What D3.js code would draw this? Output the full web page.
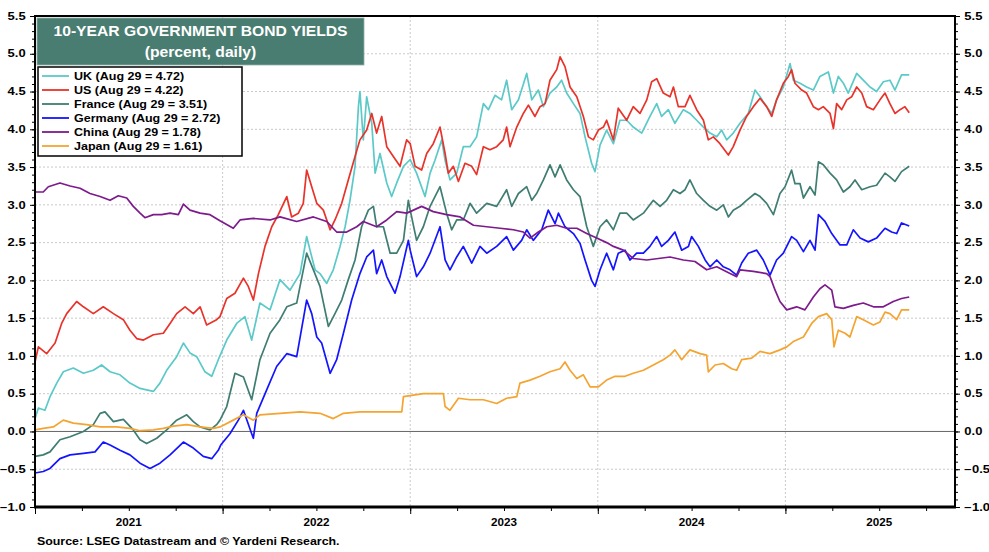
<!DOCTYPE html>
<html>
<head>
<meta charset="utf-8">
<script src="https://cdn.jsdelivr.net/npm/d3@7/dist/d3.min.js"></script>
<style>
  html, body { margin: 0; padding: 0; background: #fff; }
  svg { display: block; font-family: "Liberation Sans", Arial, Helvetica, sans-serif; }
</style>
</head>
<body>
<svg id="chart" width="989" height="552"></svg>
<script>
// ---------- DATA (decimal year, percent) ----------
const seriesNames = ["UK", "US", "France", "Germany", "China", "Japan"];
const lastValues = [4.72, 4.22, 3.51, 2.72, 1.78, 1.61];
const lastDateLabel = "Aug 29";
const seriesColors = ["#5cc9c9", "#e8332a", "#3f7d72", "#1414ff", "#7d1a8c", "#f4a431"];

const ukData = [
  [2021.000,0.17],[2021.018,0.31],[2021.053,0.28],[2021.080,0.46],[2021.116,0.64],[2021.151,0.79],[2021.204,0.84],
  [2021.258,0.77],[2021.311,0.81],[2021.355,0.88],[2021.400,0.79],[2021.453,0.75],[2021.506,0.64],[2021.560,0.57],
  [2021.595,0.55],[2021.631,0.53],[2021.666,0.64],[2021.702,0.81],[2021.755,0.99],[2021.791,1.17],[2021.826,1.04],
  [2021.862,0.99],[2021.906,0.79],[2021.942,0.73],[2021.977,0.95],
  [2022.022,1.21],[2022.075,1.43],[2022.119,1.52],[2022.155,1.21],[2022.199,1.70],[2022.253,1.61],[2022.306,2.01],
  [2022.359,1.87],[2022.413,2.09],[2022.448,2.58],[2022.466,2.40],[2022.493,2.14],[2022.519,2.09],[2022.555,1.96],
  [2022.590,2.14],[2022.626,2.45],[2022.653,2.71],[2022.679,3.06],[2022.706,3.51],[2022.724,4.30],[2022.732,4.50],
  [2022.750,3.86],[2022.768,4.43],[2022.795,4.08],[2022.813,3.42],[2022.839,3.68],[2022.875,3.29],[2022.901,3.11],
  [2022.928,3.29],[2022.964,3.51],
  [2023.000,3.60],[2023.034,3.42],[2023.079,3.11],[2023.106,3.42],[2023.132,3.59],[2023.168,3.86],[2023.186,3.59],
  [2023.212,3.33],[2023.248,3.42],[2023.283,3.77],[2023.319,3.77],[2023.354,3.90],[2023.390,4.34],[2023.417,4.26],
  [2023.452,4.45],[2023.487,4.39],[2023.514,4.65],[2023.541,4.26],[2023.577,4.39],[2023.621,4.74],[2023.648,4.39],
  [2023.683,4.52],[2023.710,4.30],[2023.745,4.48],[2023.781,4.56],[2023.807,4.65],[2023.834,4.48],[2023.870,4.34],
  [2023.905,4.21],[2023.932,3.90],[2023.967,3.55],[2023.985,3.44],
  [2024.012,3.79],[2024.047,3.99],[2024.083,3.81],[2024.118,4.12],[2024.154,4.12],[2024.189,4.03],[2024.234,3.95],
  [2024.278,4.17],[2024.314,4.34],[2024.340,4.17],[2024.376,4.26],[2024.411,4.08],[2024.456,4.26],[2024.491,4.21],
  [2024.527,4.12],[2024.563,4.03],[2024.598,3.95],[2024.634,3.90],[2024.660,3.99],[2024.687,3.86],[2024.722,3.95],
  [2024.758,4.08],[2024.802,4.21],[2024.838,4.52],[2024.865,4.43],[2024.900,4.30],[2024.927,4.21],[2024.953,4.39],
  [2024.989,4.56],
  [2025.025,4.87],[2025.042,4.65],[2025.078,4.61],[2025.113,4.56],[2025.149,4.52],[2025.184,4.70],[2025.229,4.76],
  [2025.256,4.48],[2025.282,4.70],[2025.309,4.61],[2025.335,4.48],[2025.380,4.74],[2025.415,4.65],[2025.451,4.56],
  [2025.486,4.50],[2025.522,4.63],[2025.557,4.65],[2025.584,4.52],[2025.619,4.72],[2025.660,4.72]
];

const usData = [
  [2021.000,0.92],[2021.018,1.12],[2021.062,1.03],[2021.107,1.17],[2021.142,1.43],[2021.169,1.56],[2021.222,1.72],
  [2021.258,1.65],[2021.311,1.56],[2021.364,1.65],[2021.418,1.56],[2021.471,1.48],[2021.506,1.34],[2021.542,1.23],
  [2021.578,1.21],[2021.631,1.28],[2021.684,1.30],[2021.720,1.43],[2021.755,1.56],[2021.800,1.65],[2021.844,1.56],
  [2021.880,1.65],[2021.915,1.41],[2021.968,1.48],
  [2021.986,1.52],[2022.022,1.76],[2022.066,1.83],[2022.111,2.03],[2022.137,1.92],[2022.164,1.74],[2022.191,2.09],
  [2022.226,2.45],[2022.262,2.71],[2022.297,2.87],[2022.342,3.11],[2022.368,2.84],[2022.404,2.89],[2022.430,3.02],
  [2022.448,3.46],[2022.475,3.24],[2022.502,3.02],[2022.537,2.93],[2022.573,2.67],[2022.599,2.80],[2022.635,3.02],
  [2022.670,3.33],[2022.706,3.64],[2022.732,3.86],[2022.768,3.99],[2022.795,4.21],[2022.821,3.95],[2022.848,4.17],
  [2022.875,3.77],[2022.910,3.64],[2022.946,3.51],[2022.981,3.86],
  [2023.000,3.81],[2023.026,3.51],[2023.061,3.46],[2023.088,3.68],[2023.123,3.81],[2023.159,4.03],[2023.186,3.68],
  [2023.203,3.42],[2023.230,3.51],[2023.257,3.31],[2023.292,3.55],[2023.328,3.51],[2023.354,3.40],[2023.390,3.77],
  [2023.425,3.73],[2023.461,3.77],[2023.496,3.86],[2023.514,4.03],[2023.532,3.77],[2023.568,4.03],[2023.603,4.21],
  [2023.630,4.32],[2023.665,4.17],[2023.692,4.30],[2023.719,4.34],[2023.745,4.65],[2023.781,4.79],[2023.799,4.96],
  [2023.825,4.83],[2023.852,4.56],[2023.888,4.43],[2023.923,4.17],[2023.950,3.90],[2023.976,3.86],[2024.003,3.99],
  [2024.030,4.03],[2024.047,4.12],[2024.083,3.86],[2024.109,4.28],[2024.154,4.12],[2024.189,4.30],[2024.225,4.21],
  [2024.261,4.39],[2024.287,4.63],[2024.314,4.67],[2024.349,4.48],[2024.385,4.43],[2024.403,4.56],[2024.429,4.30],
  [2024.465,4.30],[2024.491,4.45],[2024.527,4.26],[2024.563,4.12],[2024.589,3.86],[2024.616,3.90],[2024.651,3.81],
  [2024.696,3.66],[2024.722,3.77],[2024.758,3.99],[2024.793,4.17],[2024.829,4.30],[2024.865,4.41],[2024.900,4.30],
  [2024.927,4.17],[2024.953,4.39],[2024.989,4.61],
  [2025.016,4.70],[2025.033,4.79],[2025.051,4.61],[2025.087,4.52],[2025.113,4.48],[2025.149,4.30],[2025.176,4.26],
  [2025.202,4.30],[2025.238,4.21],[2025.256,4.01],[2025.273,4.34],[2025.300,4.26],[2025.327,4.39],[2025.353,4.43],
  [2025.380,4.56],[2025.407,4.48],[2025.433,4.30],[2025.469,4.26],[2025.504,4.39],[2025.531,4.48],[2025.557,4.34],
  [2025.584,4.21],[2025.611,4.26],[2025.637,4.30],[2025.660,4.22]
];

const franceData = [
  [2021.000,-0.33],[2021.044,-0.31],[2021.080,-0.27],[2021.133,-0.11],[2021.187,-0.07],[2021.258,0.00],[2021.311,0.09],
  [2021.347,0.24],[2021.373,0.26],[2021.418,0.13],[2021.471,0.16],[2021.524,0.02],[2021.560,-0.11],[2021.595,-0.16],
  [2021.649,-0.09],[2021.702,0.02],[2021.755,0.15],[2021.809,0.22],[2021.844,0.13],[2021.880,0.06],[2021.933,0.02],
  [2021.968,0.09],
  [2021.986,0.15],[2022.022,0.33],[2022.066,0.77],[2022.111,0.72],[2022.155,0.42],[2022.199,0.95],[2022.253,1.30],
  [2022.306,1.48],[2022.342,1.65],[2022.395,1.70],[2022.448,2.36],[2022.484,2.14],[2022.519,1.92],[2022.564,1.39],
  [2022.599,1.56],[2022.635,1.74],[2022.670,2.01],[2022.706,2.27],[2022.741,2.71],[2022.777,2.93],[2022.804,2.98],
  [2022.821,2.71],[2022.857,2.71],[2022.893,2.36],[2022.928,2.36],[2022.964,2.53],[2022.990,3.06],
  [2023.000,2.93],[2023.034,2.53],[2023.070,2.71],[2023.106,2.98],[2023.159,3.24],[2023.194,2.89],[2023.221,2.67],
  [2023.248,2.80],[2023.283,2.80],[2023.319,3.02],[2023.354,2.89],[2023.408,3.02],[2023.461,2.98],[2023.514,3.20],
  [2023.541,2.98],[2023.577,3.15],[2023.621,3.24],[2023.648,3.06],[2023.674,3.15],[2023.710,3.33],[2023.745,3.53],
  [2023.772,3.37],[2023.799,3.53],[2023.834,3.33],[2023.870,3.20],[2023.905,3.11],[2023.941,2.71],[2023.976,2.45],
  [2024.012,2.71],[2024.047,2.80],[2024.083,2.67],[2024.118,2.89],[2024.154,2.89],[2024.189,2.80],[2024.243,2.89],
  [2024.296,3.06],[2024.332,2.98],[2024.367,3.06],[2024.403,3.20],[2024.438,3.15],[2024.465,3.20],[2024.491,3.33],
  [2024.527,3.15],[2024.563,3.06],[2024.598,2.98],[2024.634,2.93],[2024.669,3.00],[2024.696,2.84],[2024.722,2.93],
  [2024.758,2.98],[2024.793,3.06],[2024.838,3.15],[2024.865,3.11],[2024.900,3.02],[2024.936,2.87],[2024.971,3.15],
  [2024.998,3.24],
  [2025.033,3.46],[2025.051,3.28],[2025.078,3.28],[2025.096,3.09],[2025.131,3.24],[2025.158,3.13],[2025.176,3.57],
  [2025.202,3.53],[2025.238,3.42],[2025.273,3.33],[2025.309,3.17],[2025.344,3.24],[2025.371,3.33],[2025.407,3.20],
  [2025.451,3.24],[2025.486,3.26],[2025.531,3.42],[2025.557,3.37],[2025.584,3.31],[2025.619,3.44],[2025.660,3.51]
];

const germanyData = [
  [2021.000,-0.55],[2021.044,-0.53],[2021.080,-0.49],[2021.133,-0.36],[2021.187,-0.31],[2021.258,-0.29],[2021.320,-0.27],
  [2021.364,-0.14],[2021.400,-0.18],[2021.453,-0.25],[2021.506,-0.31],[2021.560,-0.42],[2021.613,-0.49],[2021.666,-0.42],
  [2021.720,-0.31],[2021.791,-0.14],[2021.844,-0.22],[2021.897,-0.33],[2021.942,-0.36],[2021.977,-0.25],
  [2021.990,-0.18],[2022.039,-0.03],[2022.084,0.15],[2022.111,0.28],[2022.155,-0.03],[2022.164,-0.09],[2022.182,0.24],
  [2022.235,0.55],[2022.288,0.86],[2022.342,1.03],[2022.395,0.99],[2022.448,1.74],[2022.475,1.56],[2022.502,1.25],
  [2022.528,1.17],[2022.573,0.77],[2022.608,0.95],[2022.644,1.30],[2022.688,1.74],[2022.732,2.09],[2022.768,2.31],
  [2022.804,2.40],[2022.821,2.09],[2022.848,2.27],[2022.875,2.05],[2022.919,1.83],[2022.946,2.05],[2022.990,2.53],
  [2023.000,2.40],[2023.034,2.05],[2023.070,2.18],[2023.106,2.36],[2023.159,2.71],[2023.186,2.27],[2023.212,2.14],
  [2023.248,2.31],[2023.283,2.45],[2023.328,2.23],[2023.372,2.45],[2023.408,2.36],[2023.461,2.45],[2023.514,2.58],
  [2023.550,2.40],[2023.594,2.53],[2023.621,2.67],[2023.656,2.53],[2023.701,2.67],[2023.736,2.93],[2023.772,2.75],
  [2023.790,2.89],[2023.825,2.71],[2023.870,2.62],[2023.905,2.49],[2023.932,2.27],[2023.967,2.00],[2023.985,1.92],
  [2024.012,2.14],[2024.047,2.36],[2024.083,2.14],[2024.109,2.36],[2024.145,2.40],[2024.172,2.27],[2024.207,2.36],
  [2024.243,2.36],[2024.278,2.45],[2024.314,2.58],[2024.340,2.45],[2024.376,2.53],[2024.411,2.64],[2024.447,2.40],
  [2024.483,2.45],[2024.500,2.58],[2024.536,2.45],[2024.572,2.27],[2024.598,2.18],[2024.634,2.27],[2024.669,2.18],
  [2024.705,2.14],[2024.740,2.07],[2024.767,2.23],[2024.802,2.36],[2024.847,2.40],[2024.882,2.27],[2024.918,2.07],
  [2024.953,2.27],[2024.989,2.36],
  [2025.033,2.58],[2025.060,2.53],[2025.096,2.38],[2025.131,2.53],[2025.158,2.40],[2025.176,2.87],[2025.211,2.78],
  [2025.247,2.62],[2025.291,2.47],[2025.327,2.47],[2025.362,2.67],[2025.398,2.56],[2025.442,2.51],[2025.486,2.56],
  [2025.531,2.69],[2025.566,2.64],[2025.593,2.62],[2025.619,2.76],[2025.660,2.72]
];

const chinaData = [
  [2021.000,3.17],[2021.044,3.17],[2021.071,3.24],[2021.133,3.29],[2021.187,3.25],[2021.240,3.22],[2021.293,3.15],
  [2021.347,3.11],[2021.400,3.06],[2021.444,3.12],[2021.489,3.09],[2021.524,2.98],[2021.560,2.89],[2021.586,2.83],
  [2021.631,2.87],[2021.675,2.87],[2021.720,2.89],[2021.764,2.87],[2021.791,3.01],[2021.826,2.93],[2021.880,2.89],
  [2021.933,2.87],[2021.986,2.79],
  [2022.057,2.69],[2022.093,2.80],[2022.164,2.82],[2022.253,2.80],[2022.306,2.84],[2022.395,2.78],[2022.484,2.84],
  [2022.555,2.78],[2022.608,2.64],[2022.661,2.64],[2022.715,2.71],[2022.750,2.78],[2022.821,2.71],[2022.875,2.80],
  [2022.928,2.91],[2022.981,2.89],
  [2023.000,2.91],[2023.061,2.98],[2023.123,2.91],[2023.194,2.87],[2023.266,2.84],[2023.337,2.73],[2023.408,2.71],
  [2023.479,2.69],[2023.550,2.67],[2023.603,2.64],[2023.639,2.56],[2023.683,2.64],[2023.728,2.71],[2023.781,2.73],
  [2023.834,2.69],[2023.888,2.69],[2023.941,2.62],[2023.994,2.56],
  [2024.047,2.50],[2024.083,2.45],[2024.136,2.40],[2024.189,2.29],[2024.261,2.27],[2024.323,2.29],[2024.385,2.31],
  [2024.456,2.27],[2024.518,2.25],[2024.580,2.14],[2024.634,2.18],[2024.705,2.09],[2024.740,2.05],[2024.758,2.14],
  [2024.829,2.12],[2024.900,2.09],[2024.918,2.05],[2024.945,1.87],[2024.971,1.72],
  [2025.007,1.61],[2025.060,1.65],[2025.104,1.61],[2025.149,1.78],[2025.184,1.89],[2025.211,1.94],[2025.247,1.87],
  [2025.264,1.65],[2025.309,1.63],[2025.362,1.67],[2025.415,1.70],[2025.469,1.65],[2025.522,1.65],[2025.575,1.72],
  [2025.619,1.76],[2025.660,1.78]
];

const japanData = [
  [2021.000,0.02],[2021.044,0.04],[2021.098,0.06],[2021.151,0.15],[2021.204,0.11],[2021.275,0.09],[2021.347,0.06],
  [2021.435,0.06],[2021.506,0.04],[2021.560,0.01],[2021.631,0.02],[2021.684,0.04],[2021.737,0.07],[2021.809,0.09],
  [2021.880,0.06],[2021.951,0.04],
  [2021.986,0.06],[2022.057,0.15],[2022.111,0.22],[2022.164,0.15],[2022.199,0.22],[2022.306,0.24],[2022.413,0.26],
  [2022.519,0.24],[2022.590,0.17],[2022.644,0.24],[2022.732,0.26],[2022.839,0.26],[2022.955,0.26],[2022.964,0.46],
  [2023.017,0.48],[2023.070,0.50],[2023.177,0.50],[2023.186,0.33],[2023.212,0.28],[2023.257,0.44],[2023.319,0.42],
  [2023.390,0.42],[2023.461,0.37],[2023.514,0.44],[2023.568,0.46],[2023.585,0.64],[2023.639,0.68],[2023.692,0.73],
  [2023.745,0.79],[2023.799,0.83],[2023.825,0.92],[2023.852,0.81],[2023.888,0.70],[2023.923,0.75],[2023.959,0.59],
  [2024.003,0.59],[2024.047,0.68],[2024.092,0.73],[2024.145,0.73],[2024.189,0.77],[2024.243,0.81],[2024.296,0.88],
  [2024.349,0.95],[2024.385,1.01],[2024.411,1.08],[2024.447,0.95],[2024.491,1.08],[2024.545,1.03],[2024.580,1.01],
  [2024.589,0.79],[2024.625,0.88],[2024.669,0.90],[2024.714,0.83],[2024.740,0.81],[2024.767,0.95],[2024.820,0.97],
  [2024.865,1.06],[2024.918,1.03],[2024.971,1.08],
  [2025.007,1.12],[2025.042,1.19],[2025.096,1.25],[2025.140,1.43],[2025.176,1.52],[2025.220,1.56],[2025.247,1.48],
  [2025.259,1.12],[2025.282,1.34],[2025.318,1.30],[2025.344,1.25],[2025.380,1.52],[2025.415,1.48],[2025.469,1.41],
  [2025.504,1.45],[2025.531,1.58],[2025.557,1.56],[2025.593,1.48],[2025.619,1.61],[2025.660,1.61]
];

const allSeries = [ukData, usData, franceData, germanyData, chinaData, japanData];

const yMajorTicks = [-1.0, -0.5, 0.0, 0.5, 1.0, 1.5, 2.0, 2.5, 3.0, 3.5, 4.0, 4.5, 5.0, 5.5];
const yearLabels = ["2021", "2022", "2023", "2024", "2025"];
const titleLines = ["10-YEAR GOVERNMENT BOND YIELDS", "(percent, daily)"];
const sourceText = "Source: LSEG Datastream and \u00A9 Yardeni Research.";

// ---------- LAYOUT ----------
const W = 989, H = 552;
const plot = { left: 35, right: 955, top: 16, bottom: 507 };
const xStart = 2021.0, xEnd = 2025.904;

const svg = d3.select("#chart");
svg.append("rect").attr("width", W).attr("height", H).attr("fill", "#fff");

const x = d3.scaleLinear().domain([xStart, xEnd]).range([plot.left, plot.right]);
const y = d3.scaleLinear().domain([-1.0, 5.5]).range([plot.bottom, plot.top]);

// grid
const grid = svg.append("g");
grid.selectAll("line.h").data(yMajorTicks.filter(v => v > -1 && v < 5.5 && v !== 0))
  .join("line")
  .attr("x1", plot.left).attr("x2", plot.right)
  .attr("y1", d => y(d)).attr("y2", d => y(d))
  .attr("stroke", "#c9c9c9").attr("stroke-width", 1).attr("stroke-dasharray", "2,2");
grid.selectAll("line.v").data(d3.range(2022, 2026))
  .join("line")
  .attr("x1", d => x(d)).attr("x2", d => x(d))
  .attr("y1", plot.top).attr("y2", plot.bottom)
  .attr("stroke", "#c9c9c9").attr("stroke-width", 1).attr("stroke-dasharray", "2,2");

// zero line
svg.append("line")
  .attr("x1", plot.left).attr("x2", plot.right)
  .attr("y1", y(0)).attr("y2", y(0))
  .attr("stroke", "#666").attr("stroke-width", 1);

// clip
svg.append("clipPath").attr("id", "clip").append("rect")
  .attr("x", plot.left).attr("y", plot.top)
  .attr("width", plot.right - plot.left).attr("height", plot.bottom - plot.top);

const line = d3.line().x(d => x(d[0])).y(d => y(d[1]));
const linesG = svg.append("g").attr("clip-path", "url(#clip)");
allSeries.forEach((s, i) => {
  linesG.append("path")
    .datum(s)
    .attr("fill", "none")
    .attr("stroke", seriesColors[i])
    .attr("stroke-width", 1.7)
    .attr("stroke-linejoin", "round")
    .attr("d", line);
});

// axes
function styleAxis(g) {
  g.select(".domain").remove();
  g.selectAll(".tick line").attr("stroke", "#000").attr("stroke-width", 1);
  g.selectAll(".tick text").attr("font-size", 10).attr("font-weight", "bold").attr("fill", "#000")
    .attr("font-family", "'Liberation Sans', Arial, sans-serif");
}
const minorY = d3.range(-10, 56).map(v => v / 10);
const labelStretch = 1.3;

svg.append("g").attr("transform", `translate(${plot.left},0)`)
  .call(d3.axisLeft(y).tickValues(minorY).tickSize(3).tickFormat(""))
  .call(styleAxis);
svg.append("g").attr("transform", `translate(${plot.left},0)`)
  .call(d3.axisLeft(y).tickValues(yMajorTicks).tickSize(5).tickPadding(2.2).tickFormat(d3.format(".1f")))
  .call(styleAxis)
  .call(g => g.selectAll(".tick text").attr("transform", `scale(${labelStretch},1)`));

svg.append("g").attr("transform", `translate(${plot.right},0)`)
  .call(d3.axisRight(y).tickValues(minorY).tickSize(3).tickFormat(""))
  .call(styleAxis);
svg.append("g").attr("transform", `translate(${plot.right},0)`)
  .call(d3.axisRight(y).tickValues(yMajorTicks).tickSize(5).tickPadding(2.2).tickFormat(d3.format(".1f")))
  .call(styleAxis)
  .call(g => g.selectAll(".tick text").attr("transform", `scale(${labelStretch},1)`));

// bottom axis: quarterly minor, yearly major
const quarterTicks = d3.range(2021, xEnd, 0.25);
svg.append("g").attr("transform", `translate(0,${plot.bottom})`)
  .call(d3.axisBottom(x).tickValues(quarterTicks).tickSize(4).tickFormat(""))
  .call(styleAxis);
svg.append("g").attr("transform", `translate(0,${plot.bottom})`)
  .call(d3.axisBottom(x).tickValues(d3.range(2021, 2026)).tickSize(7).tickFormat(""))
  .call(styleAxis);
svg.append("g").selectAll("text").data(yearLabels).join("text")
  .attr("transform", (d, i) => `translate(${x(2021 + i + 0.5)},525.5) scale(1.06,1)`)
  .attr("text-anchor", "middle")
  .attr("font-size", 11).attr("font-weight", "bold").attr("fill", "#000")
  .text(d => d);

// frame
svg.append("rect")
  .attr("x", plot.left).attr("y", plot.top)
  .attr("width", plot.right - plot.left).attr("height", plot.bottom - plot.top)
  .attr("fill", "none").attr("stroke", "#000").attr("stroke-width", 2);
svg.append("line")
  .attr("x1", plot.left - 1).attr("x2", plot.right + 1)
  .attr("y1", plot.bottom).attr("y2", plot.bottom)
  .attr("stroke", "#000").attr("stroke-width", 3);

// title box
const tb = { x: 37, y: 18, w: 327, h: 47 };
svg.append("rect").attr("x", tb.x).attr("y", tb.y).attr("width", tb.w).attr("height", tb.h)
  .attr("fill", "#4a7d71").attr("stroke", "#8fb0a8").attr("stroke-width", 0.8);
svg.append("g").selectAll("text").data(titleLines).join("text")
  .attr("transform", (d, i) => `translate(${tb.x + tb.w / 2},${36 + i * 21}) scale(1.12,1)`)
  .attr("text-anchor", "middle")
  .attr("font-size", 14).attr("font-weight", "bold").attr("fill", "#fff")
  .text(d => d);

// legend
const lg = { x: 38, y: 67, w: 204, h: 89 };
svg.append("rect").attr("x", lg.x).attr("y", lg.y).attr("width", lg.w).attr("height", lg.h)
  .attr("fill", "#fff").attr("stroke", "#000").attr("stroke-width", 1.5);
const legendItems = svg.append("g").selectAll("g").data(seriesNames).join("g")
  .attr("transform", (d, i) => `translate(0,${76 + i * 14})`);
legendItems.append("line")
  .attr("x1", 42).attr("x2", 69).attr("y1", 0).attr("y2", 0)
  .attr("stroke", (d, i) => seriesColors[i]).attr("stroke-width", 1.8);
legendItems.append("text")
  .attr("transform", "translate(74,4.2) scale(1.07,1)")
  .attr("font-size", 11.7).attr("font-weight", "bold").attr("fill", "#000")
  .text((d, i) => `${d} (${lastDateLabel} = ${lastValues[i].toFixed(2)})`);

// source
svg.append("text").attr("transform", "translate(37,545) scale(1.18,1)")
  .attr("font-size", 10.5).attr("font-weight", "bold").attr("fill", "#000")
  .text(sourceText);
</script>
</body>
</html>
